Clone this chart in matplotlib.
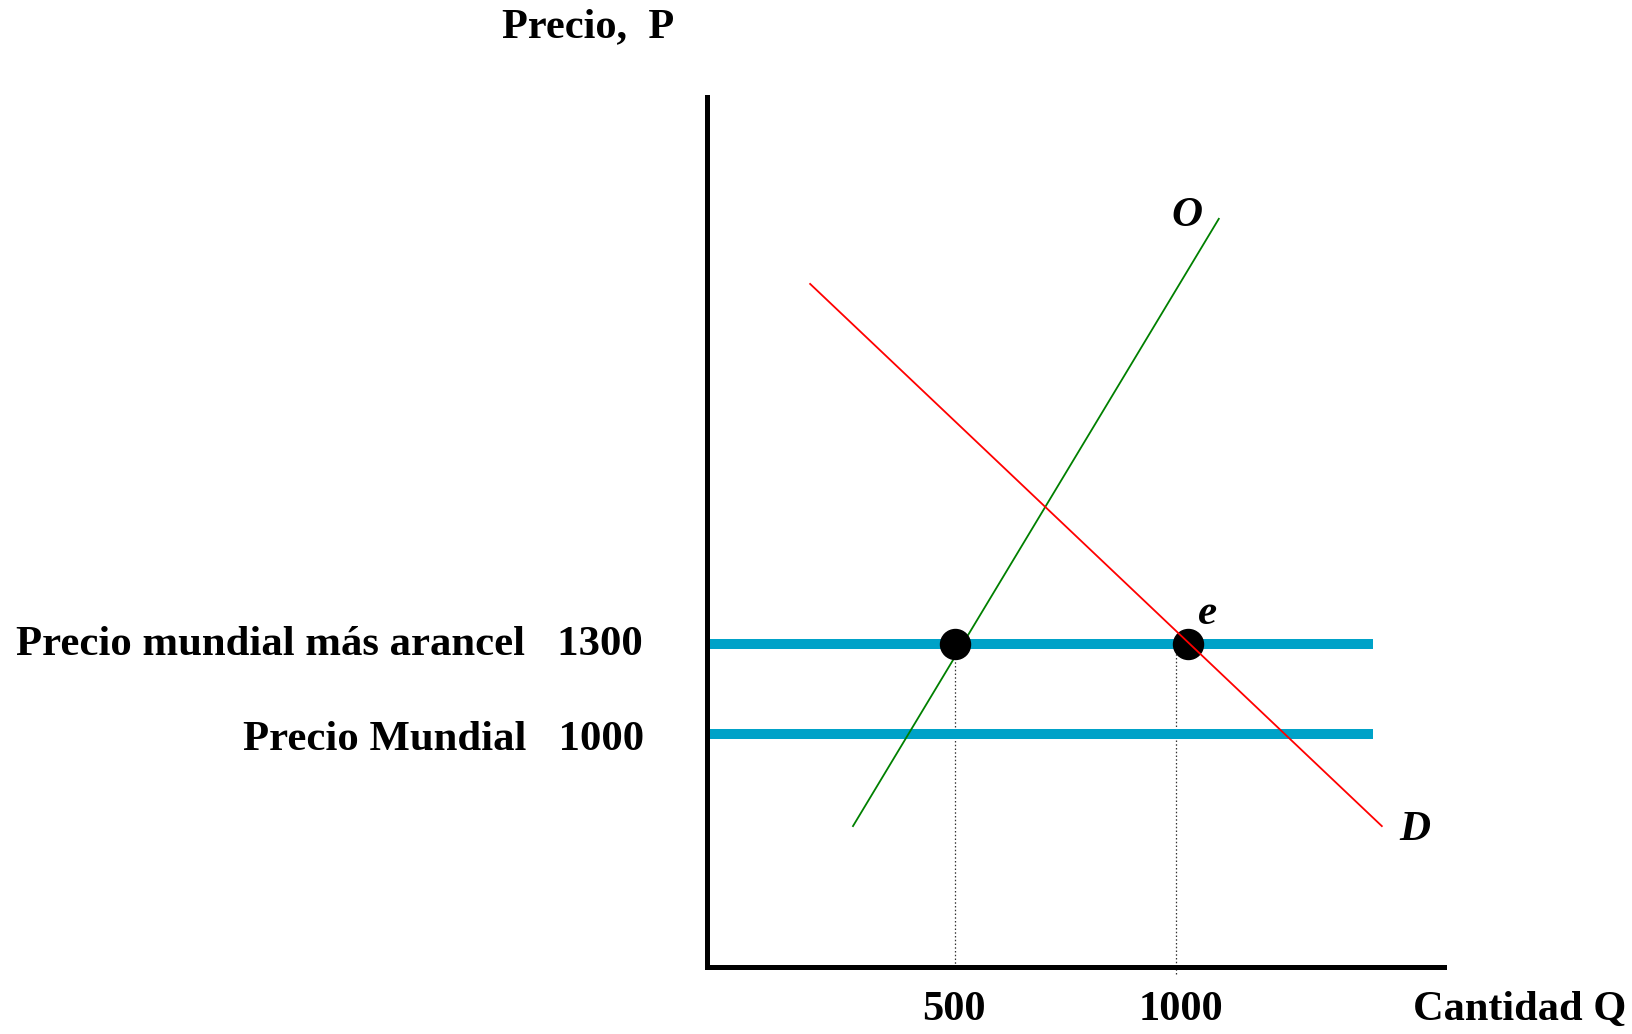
import matplotlib
matplotlib.use("Agg")
import matplotlib.pyplot as plt
import matplotlib.transforms as mtransforms

# ---- data ----
quantity_ticks = [500, 1000]
quantity_tick_labels = ["500", "1000"]
price_levels = [1300, 1000]
price_labels = ["Precio mundial más arancel   1300", "Precio Mundial   1000"]
price_line_start = [-60, -65]
price_line_end = [1446, 1446]
supply_q = [270, 1098]
supply_p = [693, 2717]
demand_q = [173, 1467]
demand_p = [2500, 693]
points_q = [500, 1028]
points_p = [1300, 1300]
guide_bottom = [225, 200]

W, H = 1633, 1034
fig = plt.figure(figsize=(W / 100, H / 100), dpi=100)
fig.patch.set_facecolor("white")

def fx(px):
    return px / W

def fy(py):
    return 1 - py / H

ax = fig.add_axes([fx(707.2), fy(966.5), fx(1443.5) - fx(707.2), fy(97) - fy(966.5)])
ax.set_xlim(-60, 1606.6)
ax.set_ylim(225, 3123)
for s in ["top", "right"]:
    ax.spines[s].set_visible(False)
for s in ["left", "bottom"]:
    ax.spines[s].set_linewidth(3.6)
    ax.spines[s].set_color("black")
ax.set_xticks([])
ax.set_yticks([])

FONT = "Liberation Serif"
blue = "#00A2C8"

# world price lines
for p, x0, x1 in zip(price_levels, price_line_start, price_line_end):
    ax.plot([x0, x1], [p, p], color=blue, lw=7.2, solid_capstyle="butt", zorder=2, clip_on=False)

# guide dotted lines
for q, yb in zip(quantity_ticks, guide_bottom):
    ax.plot([q, q], [yb, price_levels[0]], color="#333333", lw=0.9,
            linestyle=(0, (1.2, 1.8)), zorder=1, clip_on=False)

# supply
ax.plot(supply_q, supply_p, color="#008000", lw=1.3, zorder=3, clip_on=False)
# dots
ax.plot(points_q, points_p, "o", color="black", markersize=21.6, zorder=4, clip_on=False)
# demand
ax.plot(demand_q, demand_p, color="#FF0000", lw=1.3, zorder=5, clip_on=False)

# curve labels
ax.text(supply_q[1] - 72, supply_p[1] + 10, "O", fontfamily=FONT, fontweight="bold", fontstyle="italic",
        fontsize=31, ha="center", va="center")
ax.text(demand_q[1] + 74, demand_p[1] - 12, "D", fontfamily=FONT, fontweight="bold", fontstyle="italic",
        fontsize=31, ha="center", va="center")
ax.text(points_q[1] + 45, points_p[1] + 100, "e", fontfamily=FONT, fontweight="bold", fontstyle="italic",
        fontsize=31, ha="center", va="center")

# x tick labels
xtrans = mtransforms.blended_transform_factory(ax.transData, fig.transFigure)
for q, lab, off in zip(quantity_ticks, quantity_tick_labels, [-1, 5]):
    t = xtrans + mtransforms.ScaledTranslation(off / 100, 0, fig.dpi_scale_trans)
    fig.text(q, fy(1019.5), lab, transform=t, fontfamily=FONT, fontweight="bold",
             fontsize=30.5, ha="center", va="baseline")

fig.text(fx(1412.7), fy(1019.5), "Cantidad Q", fontfamily=FONT, fontweight="bold",
         fontsize=30.5, ha="left", va="baseline")

# price labels
ytrans = mtransforms.blended_transform_factory(fig.transFigure, ax.transData)
offsets_px = [-11, -16]
for p, lab, off, xr in zip(price_levels, price_labels, offsets_px, [642.5, 644]):
    t = ytrans + mtransforms.ScaledTranslation(0, off / 100, fig.dpi_scale_trans)
    fig.text(fx(xr), p, lab, transform=t, fontfamily=FONT, fontweight="bold",
             fontsize=30.8, ha="right", va="baseline")

# title
fig.text(fx(502), fy(37), "Precio,  P", fontfamily=FONT, fontweight="bold",
         fontsize=30.5, ha="left", va="baseline")

fig.savefig("out.png", dpi=100, facecolor="white")
